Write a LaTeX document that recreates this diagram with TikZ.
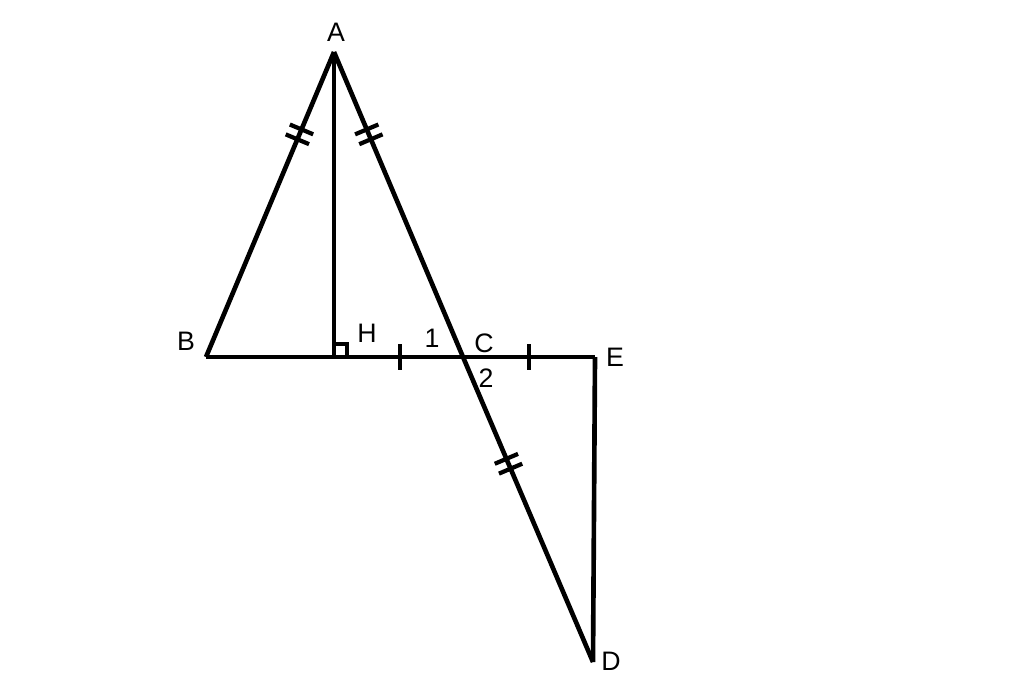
\documentclass[tikz,border=0pt]{standalone}
\usepackage{fontspec}
\setmainfont{Liberation Sans}
\usetikzlibrary{positioning, calc, decorations.markings}

\begin{document}
\begin{tikzpicture}[
    x = 0.025cm, y = -0.025cm,
    seg/.style = {line width = 3.3pt, line join = miter},
    lbl/.style = {font = \fontsize{19}{22}\selectfont, inner sep = 0},
    onetick/.style = {postaction = {decorate, decoration = {markings,
        mark = at position #1 with {\draw [line width = 3pt] (0,-9pt) -- (0,9pt);}}}},
    twotick/.style = {postaction = {decorate, decoration = {markings,
        mark = at position #1 with {\draw [line width = 3pt] (-3.8pt,-9pt) -- (-3.8pt,9pt)
                                                            (3.8pt,-9pt) -- (3.8pt,9pt);}}}}
  ]
  \useasboundingbox (0,0) rectangle (1024,676);
  % place points
  \coordinate (A) at (334,52);
  \coordinate (B) at (206,357);
  \coordinate (H) at (334,357);
  \coordinate (C) at (463,357);
  \coordinate (E) at (595,357);
  \coordinate (D) at (593,662);
  % place labels
  \node (lA) [lbl] at (336,32) {A};
  \node (lB) [lbl] at (186,341) {B};
  \node (lH) [lbl] at (367,333) {H};
  \node (l1) [lbl] at (432,338) {1};
  \node (lC) [lbl] at (484,343) {C};
  \node (l2) [lbl] at (486,378) {2};
  \node (lE) [lbl] at (615,357) {E};
  \node (lD) [lbl] at (611,661) {D};
  % place segments
  \draw [seg, twotick = 0.27] (A) -- (B);
  \draw [seg, twotick = 0.27] (A) -- (C);
  \draw [seg, twotick = 0.35] (C) -- (D);
  \draw [seg] (B) -- (H);
  \draw [seg, onetick = 0.51] (H) -- (C);
  \draw [seg, onetick = 0.5] (C) -- (E);
  \draw [seg] (A) -- (H);
  \draw [seg] (E) -- (D);
  % right angle at H
  \draw [line width = 2.4pt] ($(H)+(0,-13)$) -- ++(13,0) -- ++(0,13);
\end{tikzpicture}
\end{document}
